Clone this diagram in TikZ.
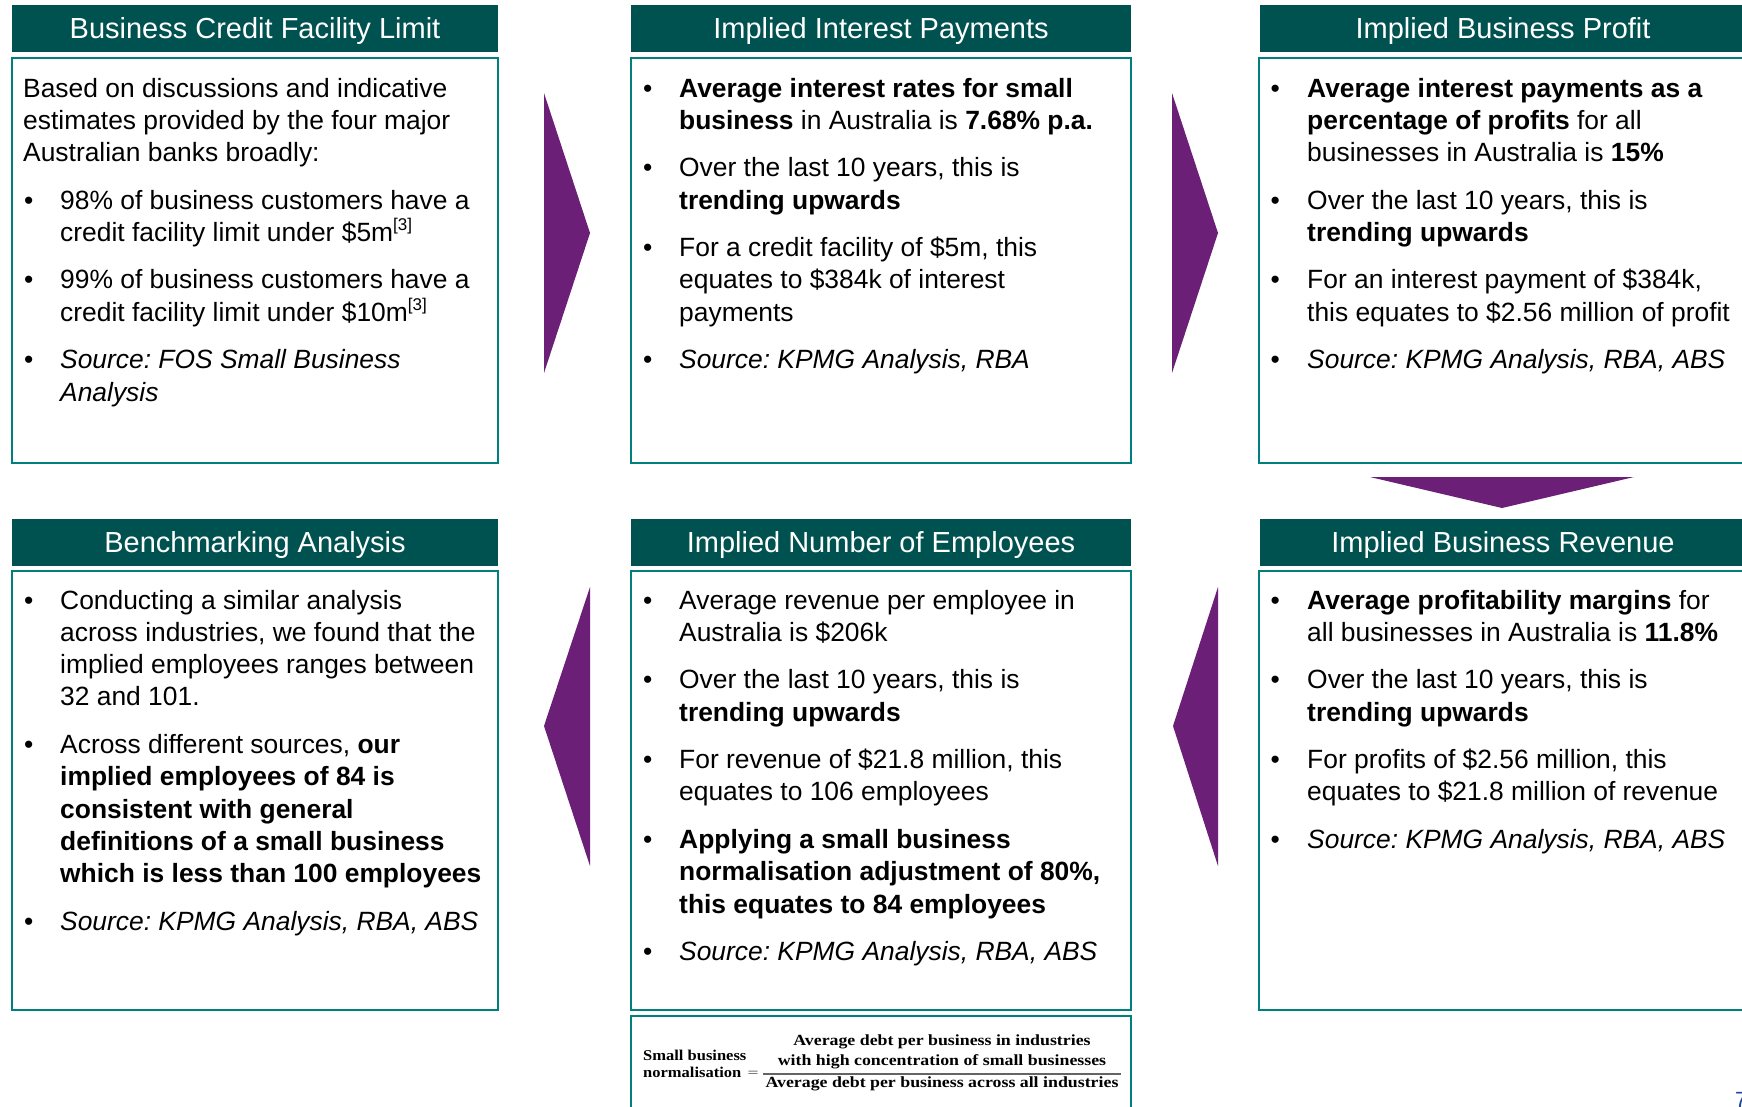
\documentclass[tikz,border=0pt]{standalone}
\usepackage{fontspec}
\usepackage{graphicx}
\setsansfont{Liberation Sans}
\renewcommand\familydefault{\sfdefault}
\newfontfamily\frfont{Liberation Serif}
\frenchspacing
\definecolor{hdrc}{RGB}{0,82,80}
\definecolor{bordc}{RGB}{0,128,124}
\definecolor{arrc}{RGB}{107,31,118}
\definecolor{pgc}{RGB}{31,73,155}
\definecolor{rulec}{RGB}{100,100,100}
\newcommand\refmk[1]{\raisebox{0.42em}{\fontsize{17}{17}\selectfont #1}}
\newcommand\wide[1]{\scalebox{1.15}[1]{#1}}
\newcommand\mylines[4]{%
  \foreach \mytxt [count=\k] in {#4} {\node[body] (#1-\k) at (#2,{#3+32.3*(\k-1)}) {\mytxt};}}
\newcommand\bpara[5]{%
  \node[bul] (#1-b) at (#2,#4) {•};
  \mylines{#1}{#3}{#4}{#5}}
\tikzset{
  body/.style={font=\frenchspacing\fontsize{26.4}{31}\selectfont, anchor=base west, inner sep=0pt, text=black},
  bul/.style={font=\fontsize{26.4}{31}\selectfont, anchor=base, inner sep=0pt, text=black},
  panel/.style={draw=bordc, line width=2.5pt, fill=white, inner sep=0pt},
  hdr/.style={fill=hdrc, text=white, inner sep=0pt, font=\fontsize{29}{29}\selectfont,
    text height=20.8pt, text depth=0pt, minimum height=47pt},
  arrowshape/.style={fill=arrc, draw=none},
  frm/.style={font=\frfont\bfseries\fontsize{15.5}{18}\selectfont, inner sep=0pt, anchor=base},
  frl/.style={font=\frfont\bfseries\fontsize{15}{17}\selectfont, inner sep=0pt, anchor=base west},
}
\begin{document}
\begin{tikzpicture}[x=1pt,y=-1pt]
\useasboundingbox (0,0) rectangle (1742,1106);
\clip (0,0) rectangle (1742,1106);
\fill[white] (0,0) rectangle (1742,1106);
% panels
\node[panel, minimum width=486, minimum height=405] (p1) at (255,260.5) {};
\node[panel, minimum width=500, minimum height=405] (p2) at (881,260.5) {};
\node[panel, minimum width=489, minimum height=405] (p3) at (1503.5,260.5) {};
\node[panel, minimum width=486, minimum height=439] (p4) at (255,790.5) {};
\node[panel, minimum width=500, minimum height=439] (p5) at (881,790.5) {};
\node[panel, minimum width=489, minimum height=439] (p6) at (1503.5,790.5) {};
\node[panel, minimum width=500, minimum height=109] (p7) at (881,1070.5) {};
% headers
\node[hdr, minimum width=486] (h1) at (255,28.5) {Business Credit Facility Limit};
\node[hdr, minimum width=500] (h2) at (881,28.5) {Implied Interest Payments};
\node[hdr, minimum width=486] (h3) at (1503,28.5) {Implied Business Profit};
\node[hdr, minimum width=486] (h4) at (255,542.5) {Benchmarking Analysis};
\node[hdr, minimum width=500] (h5) at (881,542.5) {Implied Number of Employees};
\node[hdr, minimum width=486] (h6) at (1503,542.5) {Implied Business Revenue};
% arrows
\fill[arrowshape] (544,93) -- (590,233) -- (544,373) -- cycle;
\fill[arrowshape] (1172,93) -- (1218,233) -- (1172,373) -- cycle;
\fill[arrowshape] (1370,477) -- (1634,477) -- (1502,508) -- cycle;
\fill[arrowshape] (590,587) -- (544,726) -- (590,866) -- cycle;
\fill[arrowshape] (1218,587) -- (1173,726) -- (1218,866) -- cycle;
% box 1
\mylines{t1}{23}{97}{{Based on discussions and indicative},{estimates provided by the four major},{Australian banks broadly:}}
\bpara{t1a}{28.7}{60}{209.1}{{98\% of business customers have a},{credit facility limit under \$5m\refmk{[3]}}}
\bpara{t1b}{28.7}{60}{288.9}{{99\% of business customers have a},{credit facility limit under \$10m\refmk{[3]}}}
\bpara{t1c}{28.7}{60}{368.7}{{\textit{Source: FOS Small Business}},{\textit{Analysis}}}
% box 2
\bpara{t2a}{647.7}{679}{97}{{\textbf{Average interest rates for small}},{\textbf{business} in Australia is \textbf{7.68\% p.a.}}}
\bpara{t2b}{647.7}{679}{176.8}{{Over the last 10 years, this is},{\textbf{trending upwards}}}
\bpara{t2c}{647.7}{679}{256.6}{{For a credit facility of \$5m, this},{equates to \$384k of interest},{payments}}
\bpara{t2d}{647.7}{679}{368.7}{{\textit{Source: KPMG Analysis, RBA}}}
% box 3
\bpara{t3a}{1275.3}{1307}{97}{{\textbf{Average interest payments as a}},{\textbf{percentage of profits} for all},{businesses in Australia is \textbf{15\%}}}
\bpara{t3b}{1275.3}{1307}{209.1}{{Over the last 10 years, this is},{\textbf{trending upwards}}}
\bpara{t3c}{1275.3}{1307}{288.9}{{For an interest payment of \$384k,},{this equates to \$2.56 million of profit}}
\bpara{t3d}{1275.3}{1307}{368.7}{{\textit{Source: KPMG Analysis, RBA, ABS}}}
% box 4
\bpara{t4a}{28.7}{60}{609}{{Conducting a similar analysis},{across industries, we found that the},{implied employees ranges between},{32 and 101.}}
\bpara{t4b}{28.7}{60}{753.4}{{Across different sources, \textbf{our}},{\textbf{implied employees of 84 is}},{\textbf{consistent with general}},{\textbf{definitions of a small business}},{\textbf{which is less than 100 employees}}}
\bpara{t4c}{28.7}{60}{930.1}{{\textit{Source: KPMG Analysis, RBA, ABS}}}
% box 5
\bpara{t5a}{647.7}{679}{609}{{Average revenue per employee in},{Australia is \$206k}}
\bpara{t5b}{647.7}{679}{688.8}{{Over the last 10 years, this is},{\textbf{trending upwards}}}
\bpara{t5c}{647.7}{679}{768.6}{{For revenue of \$21.8 million, this},{equates to 106 employees}}
\bpara{t5d}{647.7}{679}{848.4}{{\textbf{Applying a small business}},{\textbf{normalisation adjustment of 80\%,}},{\textbf{this equates to 84 employees}}}
\bpara{t5e}{647.7}{679}{960.5}{{\textit{Source: KPMG Analysis, RBA, ABS}}}
% box 6
\bpara{t6a}{1275.3}{1307}{609}{{\textbf{Average profitability margins} for},{all businesses in Australia is \textbf{11.8\%}}}
\bpara{t6b}{1275.3}{1307}{688.8}{{Over the last 10 years, this is},{\textbf{trending upwards}}}
\bpara{t6c}{1275.3}{1307}{768.6}{{For profits of \$2.56 million, this},{equates to \$21.8 million of revenue}}
\bpara{t6d}{1275.3}{1307}{848.4}{{\textit{Source: KPMG Analysis, RBA, ABS}}}
% formula
\node[frl] (sb1) at (643,1060) {\scalebox{1.1}[1]{Small business}};
\node[frl] (sb2) at (643,1077) {\scalebox{1.1}[1]{normalisation}};
\node[inner sep=0pt, font=\fontsize{15}{15}\selectfont] (eq) at (753,1074) {$=$};
\node[frm] (num1) at (942,1045) {\wide{Average debt per business in industries}};
\node[frm] (num2) at (942,1065) {\wide{with high concentration of small businesses}};
\node[frm] (den) at (942,1087) {\wide{Average debt per business across all industries}};
\coordinate (rl) at (942,1074);
\draw[rulec, line width=1.4pt, shorten <=-2pt, shorten >=-2pt] (den.west |- rl) -- (den.east |- rl);
% page number
\node[anchor=north west, inner sep=0pt, text=pgc, font=\fontsize{22}{22}\selectfont] (pg) at (1735,1092) {7};
\end{tikzpicture}
\end{document}
